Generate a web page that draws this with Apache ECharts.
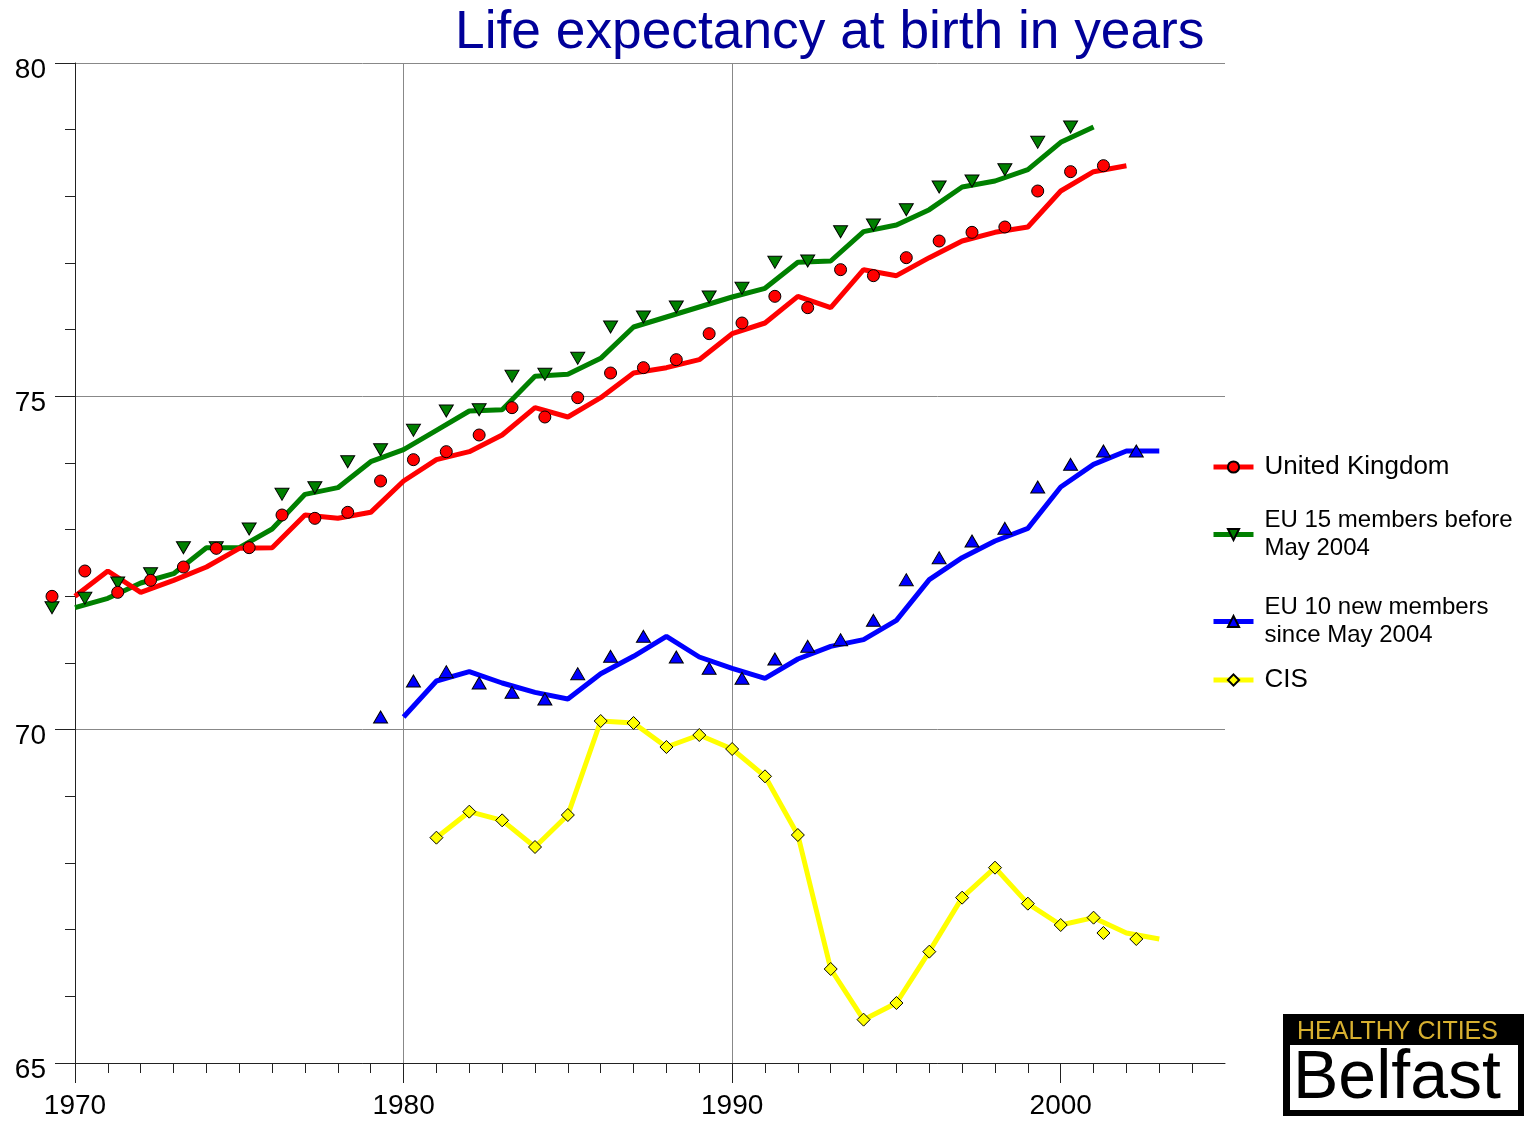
<!DOCTYPE html>
<html>
<head>
<meta charset="utf-8">
<title>Life expectancy at birth in years</title>
<script src="https://cdn.jsdelivr.net/npm/echarts@6/dist/echarts.min.js"></script>
<style>
  html, body { margin: 0; padding: 0; background: #fff; }
  #main { width: 1524px; height: 1121px; }
</style>
</head>
<body>
<div id="main"></div>
<script>
// 数据：每个序列的起始年份 + 逐年数值
const ukStart = 1970;
const ukValues = [72.0, 72.38, 72.06, 72.24, 72.44, 72.72, 72.73, 73.22, 73.17, 73.26,
  73.73, 74.05, 74.17, 74.42, 74.83, 74.69, 74.98, 75.35, 75.43, 75.55,
  75.94, 76.1, 76.5, 76.33, 76.9, 76.81, 77.08, 77.33, 77.46, 77.54,
  78.08, 78.37, 78.46];

const eu15Start = 1970;
const eu15Values = [71.83, 71.97, 72.2, 72.34, 72.73, 72.73, 73.01, 73.53, 73.63, 74.02,
  74.2, 74.49, 74.78, 74.8, 75.3, 75.33, 75.57, 76.04, 76.19, 76.34,
  76.49, 76.62, 77.01, 77.03, 77.47, 77.57, 77.8, 78.14, 78.23, 78.4,
  78.81, 79.04];

const eu10Start = 1980;
const eu10Values = [70.19, 70.73, 70.87, 70.7, 70.56, 70.46, 70.84, 71.1, 71.4, 71.09,
  70.92, 70.77, 71.06, 71.25, 71.35, 71.64, 72.25, 72.58, 72.83, 73.02,
  73.64, 73.98, 74.18, 74.18];

const cisStart = 1981;
const cisValues = [68.38, 68.77, 68.64, 68.24, 68.72, 70.13, 70.1, 69.74, 69.92,
  69.71, 69.3, 68.42, 66.41, 65.65, 65.9, 66.67, 67.48, 67.93, 67.39,
  67.07, 67.18, 66.95, 66.86];

const seriesNames = ['United Kingdom', 'EU 15 members before\nMay 2004',
  'EU 10 new members\nsince May 2004', 'CIS'];
const xLabels = [1970, 1980, 1990, 2000];
const xMinorYears = Array.from({ length: 35 }, (_, i) => 1970 + i);

const FONT = '"Liberation Sans", Arial, sans-serif';
// 原图中的标记点相对折线整体左移
const markShift = [-23, 0];
const cisShiftedYears = [2002, 2003];

function pairs(start, values) {
  return values.map((v, i) => [start + i, v]);
}

function lineSeries(name, data, color, symbol, symbolSize, offset) {
  return {
    name: name,
    type: 'line',
    data: data,
    symbol: symbol,
    symbolSize: symbolSize,
    symbolOffset: offset,
    showSymbol: true,
    showAllSymbol: true,
    clip: false,
    lineStyle: { color: color, width: 5 },
    itemStyle: { color: color, borderColor: '#000', borderWidth: 1 },
    emphasis: { disabled: true }
  };
}

const cisData = pairs(cisStart, cisValues).map(p =>
  cisShiftedYears.indexOf(p[0]) >= 0 ? { value: p, symbolOffset: markShift } : p);

function legendAt(name, top, fontSize, lineHeight) {
  return {
    data: [{ name: name }],
    orient: 'vertical',
    left: 1211,
    top: top,
    padding: 0,
    itemWidth: 40,
    itemHeight: 14,
    selectedMode: false,
    lineStyle: { width: 5 },
    textStyle: { fontFamily: FONT, fontSize: fontSize, lineHeight: lineHeight, color: '#000', padding: [0, 0, 0, 6] }
  };
}

const chart = echarts.init(document.getElementById('main'));
chart.setOption({
  animation: false,
  backgroundColor: '#fff',
  title: {
    text: 'Life expectancy at birth in years',
    left: 455,
    top: 7,
    padding: 0,
    textStyle: { fontFamily: FONT, fontSize: 53.3, fontWeight: 'normal', color: '#000099' }
  },
  legend: [
    legendAt(seriesNames[0], 452, 26, 30),
    legendAt(seriesNames[1], 506, 24, 28.5),
    legendAt(seriesNames[2], 593, 24, 28.5),
    legendAt(seriesNames[3], 665, 26, 30)
  ],
  grid: { left: 75, right: 299, top: 63, bottom: 58, containLabel: false, outerBoundsMode: 'none' },
  xAxis: [{
    type: 'value',
    min: 1970,
    max: 2005,
    interval: 10,
    axisLine: { show: true, lineStyle: { color: '#222', width: 1 } },
    axisTick: { show: true, length: 20, customValues: xLabels, lineStyle: { color: '#222' } },
    axisLabel: {
      customValues: xLabels,
      margin: 29,
      fontFamily: FONT,
      fontSize: 28,
      color: '#000',
      formatter: v => String(v)
    },
    splitLine: { show: true, showMaxLine: false, lineStyle: { color: '#888', width: 1 } }
  }, {
    type: 'value',
    min: 1970,
    max: 2005,
    interval: 1,
    position: 'bottom',
    axisLine: { show: false },
    axisTick: { show: true, length: 10, customValues: xMinorYears, lineStyle: { color: '#222' } },
    axisLabel: { show: false },
    splitLine: { show: false }
  }],
  yAxis: {
    type: 'value',
    min: 65,
    max: 80,
    interval: 5,
    axisLine: { show: true, lineStyle: { color: '#222', width: 1 } },
    axisTick: { show: true, length: 20, lineStyle: { color: '#222' } },
    minorTick: { show: true, splitNumber: 5, length: 10, lineStyle: { color: '#222' } },
    axisLabel: {
      margin: 29,
      fontFamily: FONT,
      fontSize: 28,
      color: '#000',
      verticalAlign: 'top',
      lineHeight: 14
    },
    splitLine: { show: true, lineStyle: { color: '#888', width: 1 } }
  },
  series: [
    lineSeries(seriesNames[3], cisData, '#ffff00', 'diamond', 13, [0, 0]),
    lineSeries(seriesNames[2], pairs(eu10Start, eu10Values), '#0000ff', 'triangle', [14, 12], markShift),
    lineSeries(seriesNames[1], pairs(eu15Start, eu15Values), '#008000', 'path://M0,0L20,0L10,18Z', [14, 12], markShift),
    lineSeries(seriesNames[0], pairs(ukStart, ukValues), '#ff0000', 'circle', 12, markShift)
  ],
  graphic: [
    { type: 'rect', shape: { x: 1283, y: 1014, width: 241, height: 102 }, style: { fill: '#000' } },
    { type: 'text', style: { x: 1297, y: 1032, text: 'HEALTHY CITIES', fontFamily: FONT, fontSize: 25, fill: '#d8b030', verticalAlign: 'middle' } },
    { type: 'rect', shape: { x: 1290, y: 1045, width: 228, height: 65 }, style: { fill: '#fff' } },
    { type: 'text', style: { x: 1293, y: 1079, text: 'Belfast', fontFamily: FONT, fontSize: 68, fill: '#000', verticalAlign: 'middle' } }
  ]
});
</script>
</body>
</html>
